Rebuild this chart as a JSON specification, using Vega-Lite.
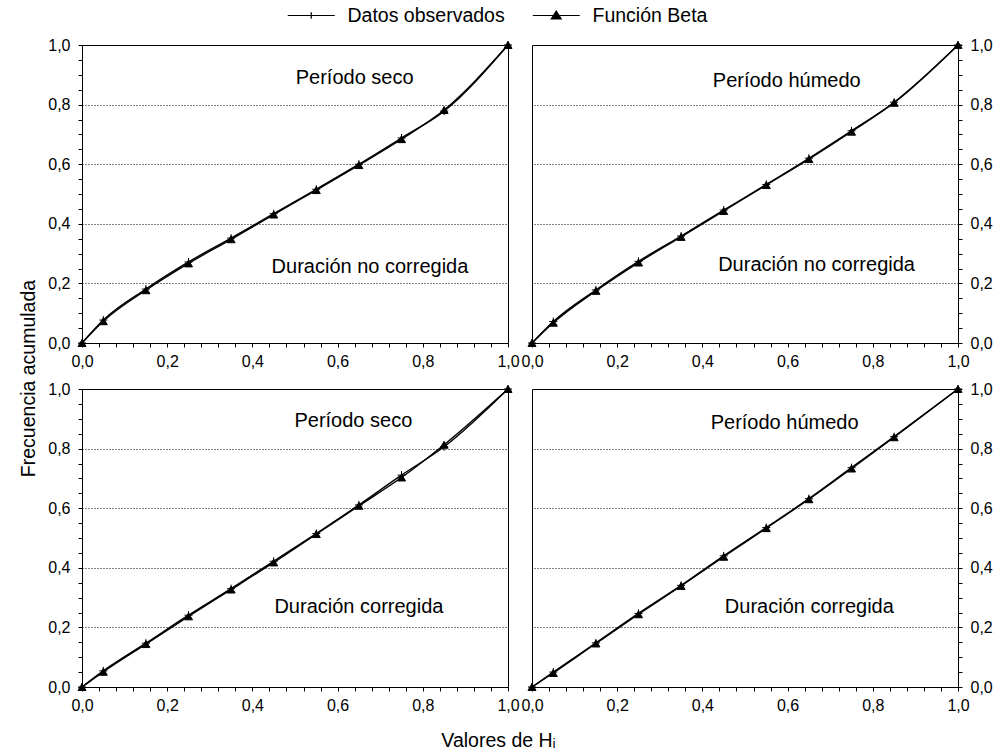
{
 "$schema": "https://vega.github.io/schema/vega-lite/v6.json",
 "padding": {"left": 17, "top": 3, "right": 5, "bottom": 5},
 "bounds": "flush",
 "columns": 2,
 "spacing": {"row": 46, "column": 24},
 "background": "white",
 "data": {"values": [
  {"p":"A","s":"Función Beta","h":0,"f":0},{"p":"A","s":"Función Beta","h":0.05,"f":0.073},{"p":"A","s":"Función Beta","h":0.15,"f":0.177},{"p":"A","s":"Función Beta","h":0.25,"f":0.267},{"p":"A","s":"Función Beta","h":0.35,"f":0.348},{"p":"A","s":"Función Beta","h":0.45,"f":0.431},{"p":"A","s":"Función Beta","h":0.55,"f":0.513},{"p":"A","s":"Función Beta","h":0.65,"f":0.597},{"p":"A","s":"Función Beta","h":0.75,"f":0.684},{"p":"A","s":"Función Beta","h":0.85,"f":0.782},{"p":"A","s":"Función Beta","h":1,"f":1},
  {"p":"A","s":"Datos observados","h":0,"f":0},{"p":"A","s":"Datos observados","h":0.05,"f":0.077},{"p":"A","s":"Datos observados","h":0.15,"f":0.181},{"p":"A","s":"Datos observados","h":0.25,"f":0.272},{"p":"A","s":"Datos observados","h":0.35,"f":0.352},{"p":"A","s":"Datos observados","h":0.45,"f":0.434},{"p":"A","s":"Datos observados","h":0.55,"f":0.516},{"p":"A","s":"Datos observados","h":0.65,"f":0.6},{"p":"A","s":"Datos observados","h":0.75,"f":0.688},{"p":"A","s":"Datos observados","h":0.85,"f":0.778},{"p":"A","s":"Datos observados","h":1,"f":1},
  {"p":"B","s":"Función Beta","h":0,"f":0},{"p":"B","s":"Función Beta","h":0.05,"f":0.068},{"p":"B","s":"Función Beta","h":0.15,"f":0.175},{"p":"B","s":"Función Beta","h":0.25,"f":0.27},{"p":"B","s":"Función Beta","h":0.35,"f":0.356},{"p":"B","s":"Función Beta","h":0.45,"f":0.443},{"p":"B","s":"Función Beta","h":0.55,"f":0.53},{"p":"B","s":"Función Beta","h":0.65,"f":0.617},{"p":"B","s":"Función Beta","h":0.75,"f":0.709},{"p":"B","s":"Función Beta","h":0.85,"f":0.806},{"p":"B","s":"Función Beta","h":1,"f":1},
  {"p":"B","s":"Datos observados","h":0,"f":0},{"p":"B","s":"Datos observados","h":0.05,"f":0.072},{"p":"B","s":"Datos observados","h":0.15,"f":0.178},{"p":"B","s":"Datos observados","h":0.25,"f":0.274},{"p":"B","s":"Datos observados","h":0.35,"f":0.359},{"p":"B","s":"Datos observados","h":0.45,"f":0.446},{"p":"B","s":"Datos observados","h":0.55,"f":0.532},{"p":"B","s":"Datos observados","h":0.65,"f":0.62},{"p":"B","s":"Datos observados","h":0.75,"f":0.712},{"p":"B","s":"Datos observados","h":0.85,"f":0.808},{"p":"B","s":"Datos observados","h":1,"f":1},
  {"p":"C","s":"Función Beta","h":0,"f":0},{"p":"C","s":"Función Beta","h":0.05,"f":0.051},{"p":"C","s":"Función Beta","h":0.15,"f":0.144},{"p":"C","s":"Función Beta","h":0.25,"f":0.237},{"p":"C","s":"Función Beta","h":0.35,"f":0.327},{"p":"C","s":"Función Beta","h":0.45,"f":0.418},{"p":"C","s":"Función Beta","h":0.55,"f":0.513},{"p":"C","s":"Función Beta","h":0.65,"f":0.608},{"p":"C","s":"Función Beta","h":0.75,"f":0.703},{"p":"C","s":"Función Beta","h":0.85,"f":0.813},{"p":"C","s":"Función Beta","h":1,"f":1},
  {"p":"C","s":"Datos observados","h":0,"f":0},{"p":"C","s":"Datos observados","h":0.05,"f":0.054},{"p":"C","s":"Datos observados","h":0.15,"f":0.147},{"p":"C","s":"Datos observados","h":0.25,"f":0.241},{"p":"C","s":"Datos observados","h":0.35,"f":0.33},{"p":"C","s":"Datos observados","h":0.45,"f":0.422},{"p":"C","s":"Datos observados","h":0.55,"f":0.515},{"p":"C","s":"Datos observados","h":0.65,"f":0.611},{"p":"C","s":"Datos observados","h":0.75,"f":0.711},{"p":"C","s":"Datos observados","h":0.85,"f":0.806},{"p":"C","s":"Datos observados","h":1,"f":1},
  {"p":"D","s":"Función Beta","h":0,"f":0},{"p":"D","s":"Función Beta","h":0.05,"f":0.047},{"p":"D","s":"Función Beta","h":0.15,"f":0.146},{"p":"D","s":"Función Beta","h":0.25,"f":0.244},{"p":"D","s":"Función Beta","h":0.35,"f":0.339},{"p":"D","s":"Función Beta","h":0.45,"f":0.437},{"p":"D","s":"Función Beta","h":0.55,"f":0.533},{"p":"D","s":"Función Beta","h":0.65,"f":0.63},{"p":"D","s":"Función Beta","h":0.75,"f":0.733},{"p":"D","s":"Función Beta","h":0.85,"f":0.838},{"p":"D","s":"Función Beta","h":1,"f":1},
  {"p":"D","s":"Datos observados","h":0,"f":0},{"p":"D","s":"Datos observados","h":0.05,"f":0.05},{"p":"D","s":"Datos observados","h":0.15,"f":0.148},{"p":"D","s":"Datos observados","h":0.25,"f":0.247},{"p":"D","s":"Datos observados","h":0.35,"f":0.341},{"p":"D","s":"Datos observados","h":0.45,"f":0.44},{"p":"D","s":"Datos observados","h":0.55,"f":0.535},{"p":"D","s":"Datos observados","h":0.65,"f":0.632},{"p":"D","s":"Datos observados","h":0.75,"f":0.736},{"p":"D","s":"Datos observados","h":0.85,"f":0.84},{"p":"D","s":"Datos observados","h":1,"f":1}
 ]},
 "concat": [
   {"width": 426, "height": 298,
    "layer": [
     {"transform": [{"filter": "datum.p==='A'"}], "mark": {"type": "line", "strokeWidth": 1.4, "interpolate": "monotone"},
      "encoding": {
       "x": {"field": "h", "type": "quantitative", "scale": {"domain": [0, 1], "nice": false},
        "axis": {"orient": "bottom", "title": null, "grid": false, "tickCount": 100, "values": [0,0.04,0.08,0.12,0.16,0.2,0.24,0.28,0.32,0.36,0.4,0.44,0.48,0.52,0.56,0.6,0.64,0.68,0.72,0.76,0.8,0.84,0.88,0.92,0.96,1], "labelExpr": "abs(datum.value*5-round(datum.value*5))<0.001 ? replace(format(datum.value,'.1f'),'.',',') : ''", "tickSize": 4, "labelPadding": 6, "labelOverlap": false, "labelFlush": false}},
       "y": {"field": "f", "type": "quantitative", "scale": {"domain": [0, 1], "nice": false},
        "axis": {"orient": "left", "tickCount": 100, "values": [0,0.05,0.1,0.15,0.2,0.25,0.3,0.35,0.4,0.45,0.5,0.55,0.6,0.65,0.7,0.75,0.8,0.85,0.9,0.95,1], "labelExpr": "abs(datum.value*5-round(datum.value*5))<0.001 ? replace(format(datum.value,'.1f'),'.',',') : ''", "grid": true, "gridColor": "black", "gridDash": [1, 2], "gridOpacity": {"condition": {"test": "datum.value>0.01 && datum.value<0.99 && abs(datum.value*5-round(datum.value*5))<0.001", "value": 1}, "value": 0}, "tickSize": 4, "labelPadding": 8, "labelOverlap": false, "labelFlush": false,
         "title": "Frecuencia acumulada", "titleFontSize": 19.5, "titleX": -54, "titleY": 333, "titleAngle": 270, "titleBaseline": "middle", "titleAlign": "center"}},
       "color": {"field": "s", "type": "nominal", "scale": {"domain": ["Datos observados", "Función Beta"], "range": ["black", "black"]},
        "legend": {"title": null, "orient": "none", "legendX": 205, "legendY": -42, "direction": "horizontal", "padding": 0, "symbolSize": 552, "labelOffset": 35.5, "columnPadding": 25, "labelFontSize": 19.5, "labelColor": "black", "labelLimit": 400,
         "encoding": {"symbols": {"shape": {"condition": {"test": "datum.value==='Datos observados'", "value": "M-1,0H3M1,-0.28V0.28"}, "value": "M-1,0H3M1,-0.38L1.42,0.3L0.58,0.3Z"}, "size": {"value": 552}, "fill": {"value": "black"}, "strokeWidth": {"value": 1.2}, "opacity": {"value": 1}}}}}}},
     {"transform": [{"filter": "datum.p==='A' && datum.s==='Datos observados'"}], "mark": {"type": "point", "shape": "M-1,0H1M0,-1V1", "fill": "black", "stroke": "black", "strokeWidth": 1, "opacity": 1, "size": 64},
      "encoding": {"x": {"field": "h", "type": "quantitative"}, "y": {"field": "f", "type": "quantitative"}}},
     {"transform": [{"filter": "datum.p==='A' && datum.s==='Función Beta'"}], "mark": {"type": "point", "shape": "triangle-up", "fill": "black", "stroke": "black", "strokeWidth": 1, "opacity": 1, "size": 64},
      "encoding": {"x": {"field": "h", "type": "quantitative"}, "y": {"field": "f", "type": "quantitative"}}},
     {"data": {"values": [{"t": "Período seco"}]}, "mark": {"type": "text", "fontSize": 20, "fill": "black", "align": "center", "baseline": "middle"}, "encoding": {"x": {"datum": 0.64, "type": "quantitative"}, "y": {"datum": 0.89, "type": "quantitative"}, "text": {"field": "t", "type": "nominal"}}},
     {"data": {"values": [{"t": "Duración no corregida"}]}, "mark": {"type": "text", "fontSize": 20, "fill": "black", "align": "center", "baseline": "middle"}, "encoding": {"x": {"datum": 0.676, "type": "quantitative"}, "y": {"datum": 0.255, "type": "quantitative"}, "text": {"field": "t", "type": "nominal"}}}
    ]},
   {"width": 426, "height": 298,
    "layer": [
     {"transform": [{"filter": "datum.p==='B'"}], "mark": {"type": "line", "strokeWidth": 1.4, "interpolate": "monotone"},
      "encoding": {
       "x": {"field": "h", "type": "quantitative", "scale": {"domain": [0, 1], "nice": false},
        "axis": {"orient": "bottom", "title": null, "grid": false, "tickCount": 100, "values": [0,0.04,0.08,0.12,0.16,0.2,0.24,0.28,0.32,0.36,0.4,0.44,0.48,0.52,0.56,0.6,0.64,0.68,0.72,0.76,0.8,0.84,0.88,0.92,0.96,1], "labelExpr": "abs(datum.value*5-round(datum.value*5))<0.001 ? replace(format(datum.value,'.1f'),'.',',') : ''", "tickSize": 4, "labelPadding": 6, "labelOverlap": false, "labelFlush": false}},
       "y": {"field": "f", "type": "quantitative", "scale": {"domain": [0, 1], "nice": false},
        "axis": {"orient": "right", "title": null, "tickCount": 100, "values": [0,0.05,0.1,0.15,0.2,0.25,0.3,0.35,0.4,0.45,0.5,0.55,0.6,0.65,0.7,0.75,0.8,0.85,0.9,0.95,1], "labelExpr": "abs(datum.value*5-round(datum.value*5))<0.001 ? replace(format(datum.value,'.1f'),'.',',') : ''", "grid": true, "gridColor": "black", "gridDash": [1, 2], "gridOpacity": {"condition": {"test": "datum.value>0.01 && datum.value<0.99 && abs(datum.value*5-round(datum.value*5))<0.001", "value": 1}, "value": 0}, "tickSize": 4, "labelPadding": 8, "labelOverlap": false, "labelFlush": false}},
       "color": {"field": "s", "type": "nominal", "scale": {"domain": ["Datos observados", "Función Beta"], "range": ["black", "black"]},
        "legend": {"title": null, "orient": "none", "legendX": 205, "legendY": -42, "direction": "horizontal", "padding": 0, "symbolSize": 552, "labelOffset": 35.5, "columnPadding": 25, "labelFontSize": 19.5, "labelColor": "black", "labelLimit": 400,
         "encoding": {"symbols": {"shape": {"condition": {"test": "datum.value==='Datos observados'", "value": "M-1,0H3M1,-0.28V0.28"}, "value": "M-1,0H3M1,-0.38L1.42,0.3L0.58,0.3Z"}, "size": {"value": 552}, "fill": {"value": "black"}, "strokeWidth": {"value": 1.2}, "opacity": {"value": 1}}}}}}},
     {"transform": [{"filter": "datum.p==='B' && datum.s==='Datos observados'"}], "mark": {"type": "point", "shape": "M-1,0H1M0,-1V1", "fill": "black", "stroke": "black", "strokeWidth": 1, "opacity": 1, "size": 64},
      "encoding": {"x": {"field": "h", "type": "quantitative"}, "y": {"field": "f", "type": "quantitative"}}},
     {"transform": [{"filter": "datum.p==='B' && datum.s==='Función Beta'"}], "mark": {"type": "point", "shape": "triangle-up", "fill": "black", "stroke": "black", "strokeWidth": 1, "opacity": 1, "size": 64},
      "encoding": {"x": {"field": "h", "type": "quantitative"}, "y": {"field": "f", "type": "quantitative"}}},
     {"data": {"values": [{"t": "Período húmedo"}]}, "mark": {"type": "text", "fontSize": 20, "fill": "black", "align": "center", "baseline": "middle"}, "encoding": {"x": {"datum": 0.598, "type": "quantitative"}, "y": {"datum": 0.88, "type": "quantitative"}, "text": {"field": "t", "type": "nominal"}}},
     {"data": {"values": [{"t": "Duración no corregida"}]}, "mark": {"type": "text", "fontSize": 20, "fill": "black", "align": "center", "baseline": "middle"}, "encoding": {"x": {"datum": 0.668, "type": "quantitative"}, "y": {"datum": 0.262, "type": "quantitative"}, "text": {"field": "t", "type": "nominal"}}}
    ]},
   {"width": 426, "height": 298,
    "layer": [
     {"transform": [{"filter": "datum.p==='C'"}], "mark": {"type": "line", "strokeWidth": 1.4, "interpolate": "monotone"},
      "encoding": {
       "x": {"field": "h", "type": "quantitative", "scale": {"domain": [0, 1], "nice": false},
        "axis": {"orient": "bottom", "grid": false, "tickCount": 100, "values": [0,0.04,0.08,0.12,0.16,0.2,0.24,0.28,0.32,0.36,0.4,0.44,0.48,0.52,0.56,0.6,0.64,0.68,0.72,0.76,0.8,0.84,0.88,0.92,0.96,1], "labelExpr": "abs(datum.value*5-round(datum.value*5))<0.001 ? replace(format(datum.value,'.1f'),'.',',') : ''", "tickSize": 4, "labelPadding": 6, "labelOverlap": false, "labelFlush": false,
         "title": "Valores de Hᵢ", "titleFontSize": 19.5, "titleX": 416, "titleY": 53, "titleBaseline": "middle", "titleAlign": "center"}},
       "y": {"field": "f", "type": "quantitative", "scale": {"domain": [0, 1], "nice": false},
        "axis": {"orient": "left", "title": null, "tickCount": 100, "values": [0,0.05,0.1,0.15,0.2,0.25,0.3,0.35,0.4,0.45,0.5,0.55,0.6,0.65,0.7,0.75,0.8,0.85,0.9,0.95,1], "labelExpr": "abs(datum.value*5-round(datum.value*5))<0.001 ? replace(format(datum.value,'.1f'),'.',',') : ''", "grid": true, "gridColor": "black", "gridDash": [1, 2], "gridOpacity": {"condition": {"test": "datum.value>0.01 && datum.value<0.99 && abs(datum.value*5-round(datum.value*5))<0.001", "value": 1}, "value": 0}, "tickSize": 4, "labelPadding": 8, "labelOverlap": false, "labelFlush": false}},
       "color": {"field": "s", "type": "nominal", "scale": {"domain": ["Datos observados", "Función Beta"], "range": ["black", "black"]},
        "legend": {"title": null, "orient": "none", "legendX": 205, "legendY": -42, "direction": "horizontal", "padding": 0, "symbolSize": 552, "labelOffset": 35.5, "columnPadding": 25, "labelFontSize": 19.5, "labelColor": "black", "labelLimit": 400,
         "encoding": {"symbols": {"shape": {"condition": {"test": "datum.value==='Datos observados'", "value": "M-1,0H3M1,-0.28V0.28"}, "value": "M-1,0H3M1,-0.38L1.42,0.3L0.58,0.3Z"}, "size": {"value": 552}, "fill": {"value": "black"}, "strokeWidth": {"value": 1.2}, "opacity": {"value": 1}}}}}}},
     {"transform": [{"filter": "datum.p==='C' && datum.s==='Datos observados'"}], "mark": {"type": "point", "shape": "M-1,0H1M0,-1V1", "fill": "black", "stroke": "black", "strokeWidth": 1, "opacity": 1, "size": 64},
      "encoding": {"x": {"field": "h", "type": "quantitative"}, "y": {"field": "f", "type": "quantitative"}}},
     {"transform": [{"filter": "datum.p==='C' && datum.s==='Función Beta'"}], "mark": {"type": "point", "shape": "triangle-up", "fill": "black", "stroke": "black", "strokeWidth": 1, "opacity": 1, "size": 64},
      "encoding": {"x": {"field": "h", "type": "quantitative"}, "y": {"field": "f", "type": "quantitative"}}},
     {"data": {"values": [{"t": "Período seco"}]}, "mark": {"type": "text", "fontSize": 20, "fill": "black", "align": "center", "baseline": "middle"}, "encoding": {"x": {"datum": 0.637, "type": "quantitative"}, "y": {"datum": 0.893, "type": "quantitative"}, "text": {"field": "t", "type": "nominal"}}},
     {"data": {"values": [{"t": "Duración corregida"}]}, "mark": {"type": "text", "fontSize": 20, "fill": "black", "align": "center", "baseline": "middle"}, "encoding": {"x": {"datum": 0.65, "type": "quantitative"}, "y": {"datum": 0.268, "type": "quantitative"}, "text": {"field": "t", "type": "nominal"}}}
    ]},
   {"width": 426, "height": 298,
    "layer": [
     {"transform": [{"filter": "datum.p==='D'"}], "mark": {"type": "line", "strokeWidth": 1.4, "interpolate": "monotone"},
      "encoding": {
       "x": {"field": "h", "type": "quantitative", "scale": {"domain": [0, 1], "nice": false},
        "axis": {"orient": "bottom", "title": null, "grid": false, "tickCount": 100, "values": [0,0.04,0.08,0.12,0.16,0.2,0.24,0.28,0.32,0.36,0.4,0.44,0.48,0.52,0.56,0.6,0.64,0.68,0.72,0.76,0.8,0.84,0.88,0.92,0.96,1], "labelExpr": "abs(datum.value*5-round(datum.value*5))<0.001 ? replace(format(datum.value,'.1f'),'.',',') : ''", "tickSize": 4, "labelPadding": 6, "labelOverlap": false, "labelFlush": false}},
       "y": {"field": "f", "type": "quantitative", "scale": {"domain": [0, 1], "nice": false},
        "axis": {"orient": "right", "title": null, "tickCount": 100, "values": [0,0.05,0.1,0.15,0.2,0.25,0.3,0.35,0.4,0.45,0.5,0.55,0.6,0.65,0.7,0.75,0.8,0.85,0.9,0.95,1], "labelExpr": "abs(datum.value*5-round(datum.value*5))<0.001 ? replace(format(datum.value,'.1f'),'.',',') : ''", "grid": true, "gridColor": "black", "gridDash": [1, 2], "gridOpacity": {"condition": {"test": "datum.value>0.01 && datum.value<0.99 && abs(datum.value*5-round(datum.value*5))<0.001", "value": 1}, "value": 0}, "tickSize": 4, "labelPadding": 8, "labelOverlap": false, "labelFlush": false}},
       "color": {"field": "s", "type": "nominal", "scale": {"domain": ["Datos observados", "Función Beta"], "range": ["black", "black"]},
        "legend": {"title": null, "orient": "none", "legendX": 205, "legendY": -42, "direction": "horizontal", "padding": 0, "symbolSize": 552, "labelOffset": 35.5, "columnPadding": 25, "labelFontSize": 19.5, "labelColor": "black", "labelLimit": 400,
         "encoding": {"symbols": {"shape": {"condition": {"test": "datum.value==='Datos observados'", "value": "M-1,0H3M1,-0.28V0.28"}, "value": "M-1,0H3M1,-0.38L1.42,0.3L0.58,0.3Z"}, "size": {"value": 552}, "fill": {"value": "black"}, "strokeWidth": {"value": 1.2}, "opacity": {"value": 1}}}}}}},
     {"transform": [{"filter": "datum.p==='D' && datum.s==='Datos observados'"}], "mark": {"type": "point", "shape": "M-1,0H1M0,-1V1", "fill": "black", "stroke": "black", "strokeWidth": 1, "opacity": 1, "size": 64},
      "encoding": {"x": {"field": "h", "type": "quantitative"}, "y": {"field": "f", "type": "quantitative"}}},
     {"transform": [{"filter": "datum.p==='D' && datum.s==='Función Beta'"}], "mark": {"type": "point", "shape": "triangle-up", "fill": "black", "stroke": "black", "strokeWidth": 1, "opacity": 1, "size": 64},
      "encoding": {"x": {"field": "h", "type": "quantitative"}, "y": {"field": "f", "type": "quantitative"}}},
     {"data": {"values": [{"t": "Período húmedo"}]}, "mark": {"type": "text", "fontSize": 20, "fill": "black", "align": "center", "baseline": "middle"}, "encoding": {"x": {"datum": 0.593, "type": "quantitative"}, "y": {"datum": 0.885, "type": "quantitative"}, "text": {"field": "t", "type": "nominal"}}},
     {"data": {"values": [{"t": "Duración corregida"}]}, "mark": {"type": "text", "fontSize": 20, "fill": "black", "align": "center", "baseline": "middle"}, "encoding": {"x": {"datum": 0.651, "type": "quantitative"}, "y": {"datum": 0.268, "type": "quantitative"}, "text": {"field": "t", "type": "nominal"}}}
    ]}
 ],
 "config": {
  "font": "Liberation Sans",
  "view": {"stroke": "black", "strokeWidth": 1},
  "axis": {"labelFont": "Liberation Sans", "labelFontSize": 16, "labelColor": "black", "domainColor": "black", "tickColor": "black", "titleFont": "Liberation Sans", "titleFontWeight": "normal", "titleColor": "black"},
  "legend": {"labelFont": "Liberation Sans"},
  "text": {"font": "Liberation Sans"}
 }
}
